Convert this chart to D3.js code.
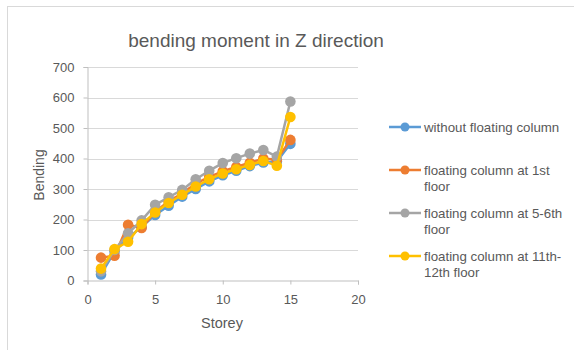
<!DOCTYPE html>
<html><head><meta charset="utf-8">
<script src="https://cdn.jsdelivr.net/npm/d3@7"></script>
<style>body{margin:0;background:#fff}svg{display:block}text{font-family:"Liberation Sans",Arial,sans-serif;fill:#595959}</style>
</head><body>
<script>
const storeys = [1,2,3,4,5,6,7,8,9,10,11,12,13,14,15];
const withoutFloating = [20,95,140,175,215,245,275,300,325,345,360,375,387,390,448];
const floating1st     = [75,81,183,172,225,260,285,318,340,358,372,386,400,396,461];
const floating56      = [30,100,155,197,248,273,297,332,360,385,401,416,428,406,587];
const floating1112    = [39,103,127,185,223,254,281,308,332,351,365,379,392,376,536];
const seriesNames = ["without floating column","floating column at 1st floor","floating column at 5-6th floor","floating column at 11th-12th floor"];
const legendLines = [["without floating column"],["floating column at 1st","floor"],["floating column at 5-6th","floor"],["floating column at 11th-","12th floor"]];
const colors = ["#5B9BD5","#ED7D31","#A5A5A5","#FFC000"];
const xTicks = [0,5,10,15,20];
const yTicks = [0,100,200,300,400,500,600,700];

const W=574,H=350;
const svg=d3.select("body").append("svg").attr("width",W).attr("height",H);
svg.append("rect").attr("x",7.5).attr("y",6.5).attr("width",W).attr("height",H).attr("fill","#fff").attr("stroke","#d9d9d9");

const x=d3.scaleLinear().domain([0,20]).range([87.5,358]);
const y=d3.scaleLinear().domain([0,700]).range([280.5,67]);

svg.append("g").selectAll("line").data(yTicks.slice(1)).join("line")
  .attr("x1",x(0)).attr("x2",x(20)).attr("y1",d=>Math.round(y(d))+0.5).attr("y2",d=>Math.round(y(d))+0.5)
  .attr("stroke","#d9d9d9").attr("stroke-width",1);

const yAxis=svg.append("g").attr("transform",`translate(${x(0)},0)`)
  .call(d3.axisLeft(y).tickValues(yTicks).tickSize(4).tickPadding(9));
const xAxis=svg.append("g").attr("transform",`translate(0,${y(0)})`)
  .call(d3.axisBottom(x).tickValues(xTicks).tickSize(4).tickPadding(10));
[yAxis,xAxis].forEach(a=>{a.select(".domain").attr("stroke","#bfbfbf");a.selectAll(".tick line").attr("stroke","#bfbfbf");
  a.selectAll("text").style("font-size","13px").attr("fill","#595959");});

const data=[withoutFloating,floating1st,floating56,floating1112];
const line=d3.line().x((d,i)=>x(storeys[i])).y(d=>y(d));
data.forEach((s,k)=>{
  svg.append("path").datum(s).attr("d",line).attr("fill","none").attr("stroke",colors[k]).attr("stroke-width",2.5).attr("stroke-linejoin","round");
  svg.append("g").selectAll("circle").data(s).join("circle")
    .attr("cx",(d,i)=>x(storeys[i])).attr("cy",d=>y(d)).attr("r",5.3).attr("fill",colors[k]);
});

svg.append("text").attr("x",256).attr("y",47).attr("text-anchor","middle").style("font-size","19px").text("bending moment in Z direction");
svg.append("text").attr("transform","translate(44,175) rotate(-90)").attr("text-anchor","middle").style("font-size","14px").text("Bending");
svg.append("text").attr("x",222).attr("y",328).attr("text-anchor","middle").style("font-size","14.5px").text("Storey");

const legY=[127,170,213,256];
const lg=svg.append("g");
legendLines.forEach((ls,k)=>{
  lg.append("line").attr("x1",389).attr("x2",421).attr("y1",legY[k]).attr("y2",legY[k]).attr("stroke",colors[k]).attr("stroke-width",2.5);
  lg.append("circle").attr("cx",405).attr("cy",legY[k]).attr("r",4.5).attr("fill",colors[k]);
  ls.forEach((t,j)=>lg.append("text").attr("x",424).attr("y",legY[k]+4.5+j*16.5).style("font-size","13.3px").text(t));
});
</script>
</body></html>
